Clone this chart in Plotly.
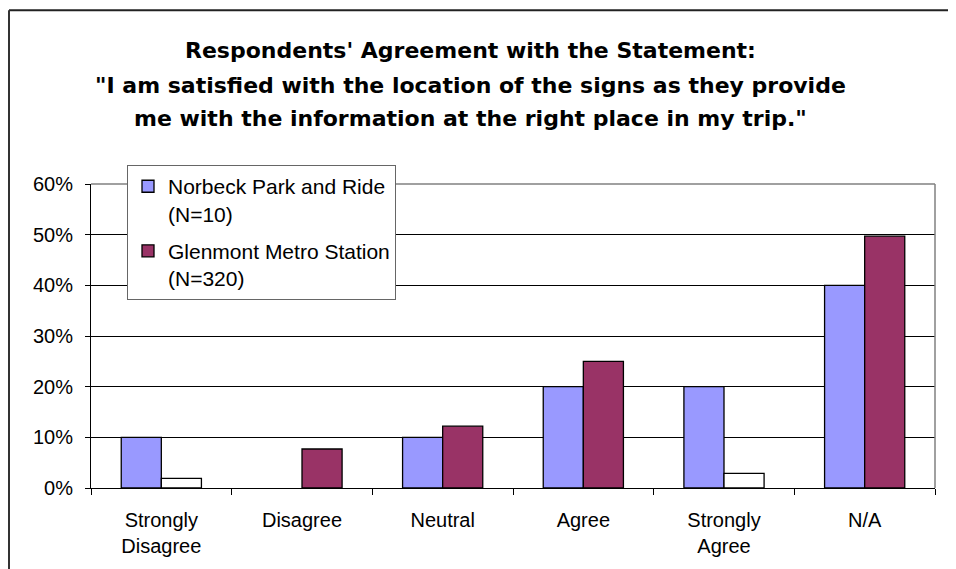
import plotly.graph_objects as go

categories = ["Strongly<br>Disagree", "Disagree", "Neutral", "Agree", "Strongly<br>Agree", "N/A"]
norbeck = [0.10, 0.0, 0.10, 0.20, 0.20, 0.40]
glenmont = [0.019, 0.077, 0.122, 0.250, 0.029, 0.497]
series_names = ["Norbeck Park and Ride<br>(N=10)", "Glenmont Metro Station<br>(N=320)"]
y_ticks = [0, 0.1, 0.2, 0.3, 0.4, 0.5, 0.6]
title_lines = [
    "Respondents' Agreement with the Statement:",
    "\"I am satisfied with the location of the signs as they provide",
    "me with the information at the right place in my trip.\"",
]

# page body has an 8px margin; figure is sized so that it fills the rest of the window
OFF = 8
W, H = 956 - OFF, 569 - OFF
# plot area in screen pixels
PX_L, PX_R, PX_T, PX_B = 91, 935, 184, 490
L = PX_L - OFF
R = W - (PX_R - OFF)
T = PX_T - OFF
B = H - (PX_B - OFF)
pw, ph = PX_R - PX_L, PX_B - PX_T

blue = "#9999FF"
maroon = "#993366"
glen_colors = ["#FFFFFF", maroon, maroon, maroon, "#FFFFFF", maroon]
norbeck_lw = [0 if v == 0 else 1.3 for v in norbeck]

fig = go.Figure()
fig.add_trace(go.Bar(x=categories, y=norbeck, name=series_names[0], offsetgroup="a",
                     legendgroup="a",
                     marker=dict(color=blue, line=dict(color="black", width=norbeck_lw))))
fig.add_trace(go.Bar(x=categories, y=glenmont, name=series_names[1], offsetgroup="b",
                     legendgroup="b", showlegend=False,
                     marker=dict(color=glen_colors, line=dict(color="black", width=1.3))))
# legend entry for the Glenmont series (shares its bar slot, draws nothing)
fig.add_trace(go.Bar(x=[categories[0]], y=[None], name=series_names[1], offsetgroup="b",
                     legendgroup="b", showlegend=True, hoverinfo="skip",
                     marker=dict(color=maroon, line=dict(color="black", width=1.3))))


def px_x(x):
    return (x - PX_L) / pw


def px_y(y):
    return (PX_B - y) / ph


shapes = [
    # outer chart border (top and left)
    dict(type="line", xref="paper", yref="paper", x0=px_x(9), x1=px_x(970), y0=px_y(9), y1=px_y(9),
         line=dict(color="#222222", width=2)),
    dict(type="line", xref="paper", yref="paper", x0=px_x(9), x1=px_x(9), y0=px_y(9), y1=px_y(580),
         line=dict(color="#333333", width=2)),
    # plot area top/right border (grey)
    dict(type="line", xref="paper", yref="paper", x0=0, x1=1, y0=1, y1=1,
         line=dict(color="#808080", width=1.5)),
    dict(type="line", xref="paper", yref="paper", x0=1, x1=1, y0=0, y1=1,
         line=dict(color="#808080", width=1.5)),
]

annotations = []
for i, line in enumerate(title_lines):
    annotations.append(dict(text="<b>" + line + "</b>", xref="paper", yref="paper",
                            x=px_x(470), y=px_y([50, 85, 118][i]), xanchor="center", yanchor="middle",
                            showarrow=False,
                            font=dict(family="DejaVu Sans", size=22, color="black")))

fig.update_layout(
    width=W, height=H,
    margin=dict(l=L, r=R, t=T, b=B),
    paper_bgcolor="white", plot_bgcolor="white",
    barmode="group", bargap=0.43, bargroupgap=0,
    font=dict(family="Liberation Sans, Arial", size=20, color="black"),
    showlegend=True,
    legend=dict(x=px_x(127), y=px_y(165), xanchor="left", yanchor="top",
                bgcolor="white", bordercolor="#666666", borderwidth=1,
                font=dict(size=21), tracegroupgap=7, valign="top"),
    shapes=shapes,
    annotations=annotations,
)
fig.update_xaxes(type="category", tickson="boundaries", ticks="outside", ticklen=6,
                 tickcolor="black", showline=True, linecolor="black", linewidth=1,
                 showgrid=False, tickfont=dict(size=20), ticklabelstandoff=14)
fig.update_yaxes(range=[0, 0.6], tickvals=y_ticks, tickformat=".0%", ticks="outside", ticklen=5,
                 tickcolor="black", showline=True, linecolor="black", linewidth=1,
                 showgrid=True, gridcolor="black", gridwidth=1, zeroline=False,
                 tickfont=dict(size=20), ticklabelstandoff=8)

fig.write_html("out.html")
